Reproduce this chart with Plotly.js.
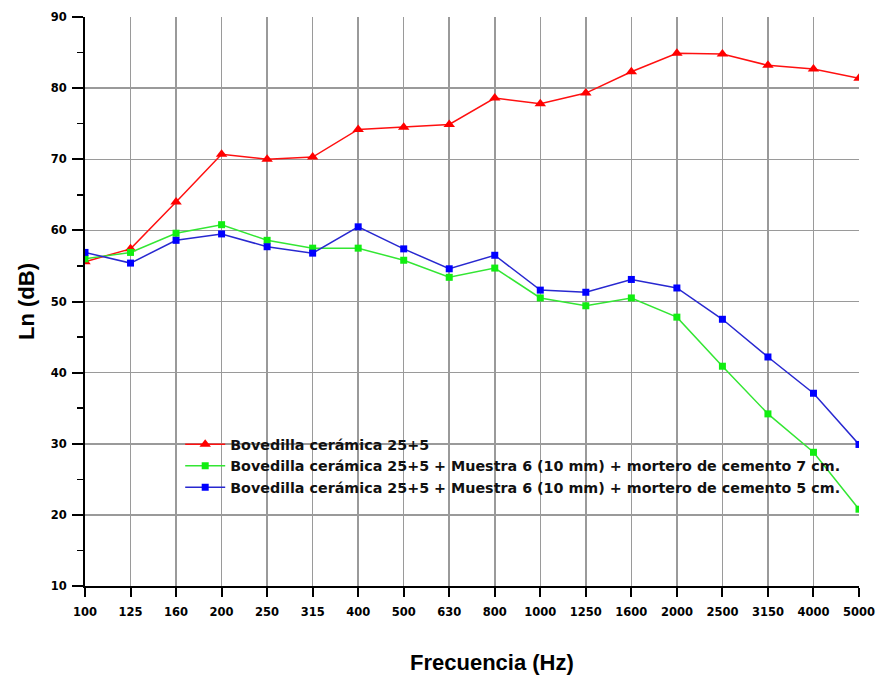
<!DOCTYPE html>
<html>
<head>
<meta charset="utf-8">
<script src="https://cdn.plot.ly/plotly-3.0.1.min.js"></script>
<style>html,body{margin:0;padding:0;background:#fff;}#chart{width:877px;height:675px;}</style>
</head>
<body>
<div id="chart"></div>
<script>
const frequencies = ["100","125","160","200","250","315","400","500","630","800","1000","1250","1600","2000","2500","3150","4000","5000"];
const seriesNames = [
  "Bovedilla cerámica 25+5",
  "Bovedilla cerámica 25+5 + Muestra 6 (10 mm) + mortero de cemento 7 cm.",
  "Bovedilla cerámica 25+5 + Muestra 6 (10 mm) + mortero de cemento 5 cm."
];
const bovedilla = [55.6,57.4,64.0,70.7,70.0,70.3,74.2,74.5,74.9,78.6,77.8,79.3,82.3,84.9,84.8,83.2,82.7,81.4];
const mortero7 = [56.0,56.9,59.6,60.8,58.6,57.5,57.5,55.8,53.4,54.7,50.5,49.4,50.5,47.8,40.9,34.2,28.8,20.8];
const mortero5 = [56.9,55.4,58.6,59.5,57.7,56.8,60.5,57.4,54.6,56.5,51.6,51.3,53.1,51.9,47.5,42.2,37.1,29.9];
const yTicks = [10,20,30,40,50,60,70,80,90];
const xTitle = "Frecuencia (Hz)";
const yTitle = "Ln (dB)";

const font = "Liberation Sans, Arial, sans-serif";
const wide = "DejaVu Sans, Liberation Sans, sans-serif";
const traces = [
  {x: frequencies, y: bovedilla, name: seriesNames[0], mode: "lines+markers",
   line: {color: "#ff1010", width: 1.5}, marker: {symbol: "triangle-up", size: 10, color: "#ff0000"}},
  {x: frequencies, y: mortero7, name: seriesNames[1], mode: "lines+markers",
   line: {color: "#33e633", width: 1.5}, marker: {symbol: "square", size: 7, color: "#11ee11"}},
  {x: frequencies, y: mortero5, name: seriesNames[2], mode: "lines+markers",
   line: {color: "#2828d0", width: 1.5}, marker: {symbol: "square", size: 7, color: "#0000ff"}}
];
const layout = {
  width: 877, height: 675,
  margin: {l: 85, r: 18, t: 17, b: 89, autoexpand: false},
  paper_bgcolor: "#fff", plot_bgcolor: "#fff",
  font: {family: font, size: 12, color: "#000"},
  showlegend: true,
  legend: {x: 0.123, y: 0.277, xanchor: "left", yanchor: "top",
    bgcolor: "rgba(0,0,0,0)", font: {family: wide, size: 14.3, color: "#111", weight: "bold"},
    tracegroupgap: 0, itemwidth: 40},
  xaxis: {type: "category", range: [0, 17], showline: true, linecolor: "#000", linewidth: 2,
    ticks: "outside", ticklen: 9, tickwidth: 2, tickcolor: "#000", ticklabelstandoff: 5,
    showgrid: true, gridcolor: "#9a9a9a", gridwidth: 1.5, zeroline: false,
    tickfont: {family: wide, size: 11.5, weight: "bold"}},
  yaxis: {range: [10, 90], tickvals: yTicks, showline: true, linecolor: "#000", linewidth: 2,
    ticks: "outside", ticklen: 11, tickwidth: 2, tickcolor: "#000", ticklabelstandoff: 3,
    minor: {dtick: 5, ticks: "outside", ticklen: 6, tickwidth: 1.5, tickcolor: "#000", showgrid: false},
    showgrid: true, gridcolor: "#9a9a9a", gridwidth: 1.5, zeroline: false,
    tickfont: {family: wide, size: 11.5, weight: "bold"},
    title: {text: yTitle, font: {family: font, size: 22, weight: "bold"}, standoff: 10}},
  annotations: [
    {text: xTitle, xref: "paper", yref: "paper", x: 0.526, y: -0.135, xanchor: "center", yanchor: "middle",
     showarrow: false, font: {family: font, size: 22, weight: "bold", color: "#000"}}
  ]
};
Plotly.newPlot("chart", traces, layout, {displayModeBar: false, staticPlot: true});
</script>
</body>
</html>
